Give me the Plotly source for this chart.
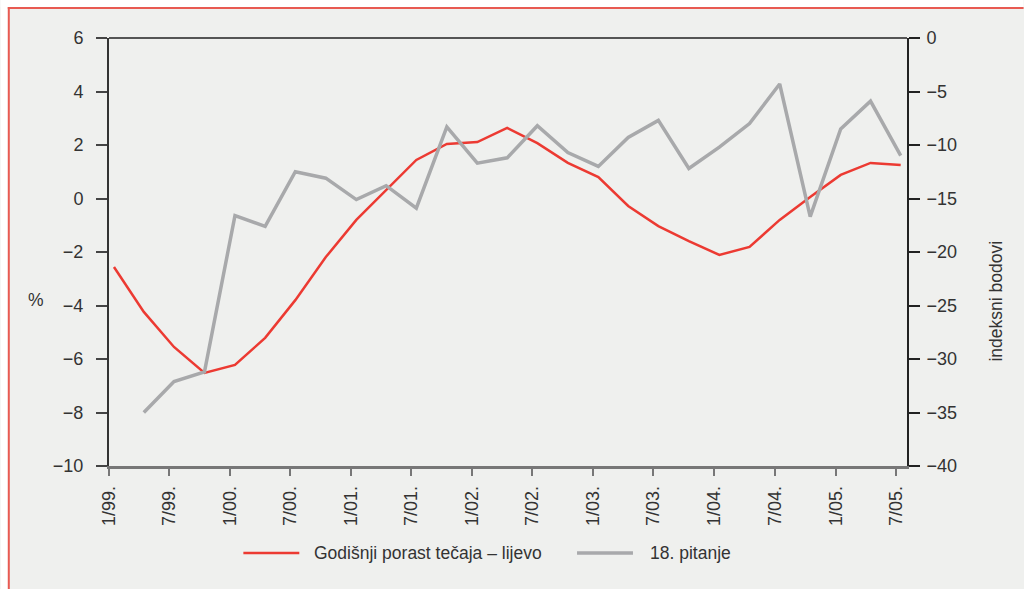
import plotly.graph_objects as go

# ---- data ----
quarters = ["1999-01-16", "1999-04-16", "1999-07-16", "1999-10-16",
            "2000-01-16", "2000-04-16", "2000-07-16", "2000-10-16",
            "2001-01-16", "2001-04-16", "2001-07-16", "2001-10-16",
            "2002-01-16", "2002-04-16", "2002-07-16", "2002-10-16",
            "2003-01-16", "2003-04-16", "2003-07-16", "2003-10-16",
            "2004-01-16", "2004-04-16", "2004-07-16", "2004-10-16",
            "2005-01-16", "2005-04-16", "2005-07-16"]

tecaj = [-2.56, -4.24, -5.55, -6.52, -6.22, -5.21, -3.80, -2.19,
         -0.80, 0.32, 1.44, 2.04, 2.11, 2.64, 2.07, 1.33,
         0.80, -0.28, -1.03, -1.59, -2.11, -1.81, -0.80, 0.06,
         0.88, 1.33, 1.25]

pitanje_dates = quarters[1:]
pitanje = [-35.0, -32.1, -31.2, -16.6, -17.6, -12.5, -13.1, -15.1,
           -13.8, -15.9, -8.3, -11.7, -11.2, -8.2, -10.7, -12.0,
           -9.3, -7.7, -12.2, -10.2, -8.0, -4.3, -16.7, -8.5,
           -5.9, -11.0]

tick_dates = ["1999-01-01", "1999-07-01", "2000-01-01", "2000-07-01",
              "2001-01-01", "2001-07-01", "2002-01-01", "2002-07-01",
              "2003-01-01", "2003-07-01", "2004-01-01", "2004-07-01",
              "2005-01-01", "2005-07-01"]
tick_labels = ["1/99.", "7/99.", "1/00.", "7/00.", "1/01.", "7/01.", "1/02.",
               "7/02.", "1/03.", "7/03.", "1/04.", "7/04.", "1/05.", "7/05."]

name_red = "Godišnji porast tečaja – lijevo"
name_gray = "18. pitanje"

RED = "#ec3a32"
GRAY = "#a8a9ab"
BG = "#eff0ee"
FRAME = "#e85a52"
FONT = "Liberation Sans, Arial, sans-serif"

# ---- geometry (page pixels; body margin removed below) ----
W, H = 1024, 589
L, R, T, B = 108.5, 907.3, 38, 466
pw, ph = R - L, B - T


def px(x):
    return (x - L) / pw


def py(y):
    return (B - y) / ph


fig = go.Figure()
fig.add_trace(go.Scatter(x=pitanje_dates, y=pitanje, name=name_gray, mode="lines",
                         line=dict(color=GRAY, width=3.5), yaxis="y2",
                         showlegend=False))
fig.add_trace(go.Scatter(x=quarters, y=tecaj, name=name_red, mode="lines",
                         line=dict(color=RED, width=2.5), yaxis="y",
                         showlegend=False))

tickfont = dict(family=FONT, size=18, color="#333333")

fig.update_layout(
    width=W, height=H,
    margin=dict(l=L, r=W - R, t=T, b=H - B, pad=0),
    paper_bgcolor=BG,
    plot_bgcolor="rgba(0,0,0,0)",
    showlegend=False,
    xaxis=dict(
        type="date", range=["1999-01-01", "2005-08-04"],
        tickvals=tick_dates, ticktext=tick_labels, tickangle=-90,
        ticks="outside", ticklen=7, tickwidth=2, tickcolor="#777777",
        showline=True, linecolor="#777777", linewidth=2.5,
        showgrid=False, zeroline=False, tickfont=tickfont,
        ticklabelstandoff=3,
    ),
    yaxis=dict(
        range=[-10, 6], dtick=2, ticks="outside", ticklen=11, tickwidth=1.5,
        tickcolor="#444444", showline=True, linecolor="#333333", linewidth=2,
        showgrid=False, zeroline=False, tickfont=tickfont,
        ticklabelstandoff=9,
    ),
    yaxis2=dict(
        range=[-40, 0], dtick=5, overlaying="y", side="right", anchor="x",
        ticks="outside", ticklen=11, tickwidth=1.5, tickcolor="#222222",
        showline=True, linecolor="#222222", linewidth=2,
        showgrid=False, zeroline=False, tickfont=tickfont,
        ticklabelstandoff=3,
    ),
    yaxis3=dict(
        range=[-40, 0], dtick=5, overlaying="y", side="right", anchor="x",
        ticks="inside", ticklen=11, tickwidth=1.5, tickcolor="#222222",
        showticklabels=False, showline=False, showgrid=False, zeroline=False,
    ),
)

shapes = [
    # white outer strips (left and top) and red frame of the panel
    dict(type="rect", xref="paper", yref="paper", layer="below",
         x0=px(0), x1=px(7.2), y0=py(H), y1=py(0),
         line=dict(width=0), fillcolor="white"),
    dict(type="rect", xref="paper", yref="paper", layer="below",
         x0=px(0), x1=px(W), y0=py(7), y1=py(0),
         line=dict(width=0), fillcolor="white"),
    dict(type="line", xref="paper", yref="paper", layer="below",
         x0=px(8.2), x1=px(8.2), y0=py(7), y1=py(H),
         line=dict(color=FRAME, width=2)),
    dict(type="line", xref="paper", yref="paper", layer="below",
         x0=px(7.2), x1=px(W), y0=py(8), y1=py(8),
         line=dict(color=FRAME, width=2)),
    # top frame line of plot
    dict(type="line", xref="paper", yref="paper", x0=0, x1=1, y0=1, y1=1,
         line=dict(color="#222222", width=1.5)),
    # legend samples
    dict(type="line", xref="paper", yref="paper", x0=px(243), x1=px(299),
         y0=py(553), y1=py(553), line=dict(color=RED, width=2.5)),
    dict(type="line", xref="paper", yref="paper", x0=px(577), x1=px(633),
         y0=py(553), y1=py(553), line=dict(color=GRAY, width=3.5)),
]

legfont = dict(family=FONT, size=17.5, color="#333333")
annotations = [
    dict(text=name_red, x=px(312), y=py(553), xref="paper", yref="paper",
         xanchor="left", yanchor="middle", showarrow=False, font=legfont),
    dict(text=name_gray, x=px(648), y=py(553), xref="paper", yref="paper",
         xanchor="left", yanchor="middle", showarrow=False, font=legfont),
    dict(text="%", x=px(35), y=py(300), xref="paper", yref="paper",
         xanchor="center", yanchor="middle", showarrow=False, font=legfont),
    dict(text="indeksni bodovi", x=px(996), y=py(301), xref="paper", yref="paper",
         xanchor="center", yanchor="middle", showarrow=False, textangle=-90,
         font=legfont),
]

fig.update_layout(shapes=shapes, annotations=annotations)
fig.write_html("out.html",
               config={"displayModeBar": False},
               post_script="document.body.style.margin='0';")
